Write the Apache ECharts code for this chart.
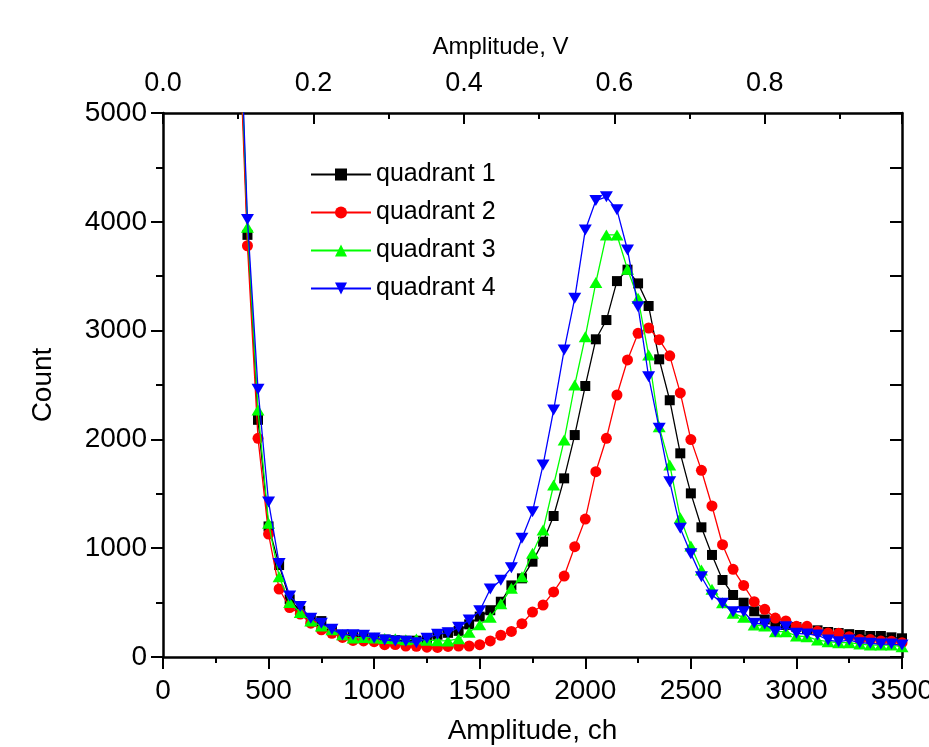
<!DOCTYPE html>
<html>
<head>
<meta charset="utf-8">
<title>Amplitude spectra</title>
<script src="https://cdn.jsdelivr.net/npm/echarts@6/dist/echarts.min.js"></script>
<style>
  html, body { margin: 0; padding: 0; background: #fff; }
  #chart { width: 929px; height: 747px; }
</style>
</head>
<body>
<div id="chart"></div>
<script>
/* CANALES (eje x, ch) */
var canales = [350, 400, 450, 500, 550, 600, 650, 700, 750, 800, 850, 900, 950, 1000,
  1050, 1100, 1150, 1200, 1250, 1300, 1350, 1400, 1450, 1500, 1550, 1600, 1650, 1700,
  1750, 1800, 1850, 1900, 1950, 2000, 2050, 2100, 2150, 2200, 2250, 2300, 2350, 2400,
  2450, 2500, 2550, 2600, 2650, 2700, 2750, 2800, 2850, 2900, 2950, 3000, 3050, 3100,
  3150, 3200, 3250, 3300, 3350, 3400, 3450, 3500];

/* CONTEOS POR CUADRANTE */
var quadrant1 = [6500, 3880, 2180, 1200, 845, 530, 425, 342, 330, 255, 200, 190, 180, 175,
  160, 155, 150, 150, 165, 205, 222, 240, 300, 371, 430, 508, 658, 723,
  876, 1060, 1296, 1642, 2040, 2491, 2920, 3097, 3455, 3560, 3434, 3226, 2736, 2360,
  1872, 1504, 1192, 938, 708, 570, 499, 420, 345, 320, 295, 275, 258, 245,
  230, 220, 210, 202, 193, 193, 181, 172];

var quadrant2 = [6300, 3780, 2010, 1130, 625, 455, 395, 311, 250, 218, 180, 152, 148, 141,
  113, 115, 101, 98, 90, 88, 97, 101, 101, 113, 148, 200, 235, 306,
  413, 478, 598, 744, 1014, 1268, 1703, 2010, 2408, 2730, 2975, 3024, 2917, 2768,
  2427, 1998, 1716, 1388, 1032, 806, 658, 508, 438, 358, 332, 282, 282, 236,
  220, 218, 187, 160, 160, 146, 144, 132];

var quadrant3 = [6600, 3950, 2270, 1229, 738, 500, 410, 330, 285, 250, 205, 175, 180, 175,
  170, 168, 158, 165, 155, 150, 148, 168, 228, 297, 366, 490, 631, 738,
  953, 1167, 1581, 1994, 2500, 2944, 3442, 3879, 3879, 3563, 3297, 2776, 2117, 1765,
  1280, 1020, 800, 622, 499, 401, 365, 294, 285, 233, 233, 193, 187, 156,
  141, 132, 132, 119, 110, 110, 110, 95];

var quadrant4 = [6700, 4020, 2460, 1425, 860, 560, 465, 356, 310, 255, 205, 205, 200, 175,
  156, 148, 145, 132, 172, 210, 224, 273, 340, 425, 625, 705, 820, 1091,
  1336, 1765, 2270, 2822, 3297, 3925, 4195, 4230, 4110, 3741, 3220, 2576, 2102, 1611,
  1183, 950, 738, 570, 494, 416, 416, 310, 303, 233, 279, 218, 211, 202,
  156, 141, 156, 132, 126, 119, 119, 110];

/* ETIQUETAS Y EJES */
var nombres = ['quadrant 1', 'quadrant 2', 'quadrant 3', 'quadrant 4'];
var colores = ['#000000', '#ff0000', '#00ff00', '#0000ff'];
var marcadores = ['rect', 'circle', 'triangle', 'triangle'];
var rotaciones = [0, 0, 0, 180];
var tamanos = [10, 11, [13, 11], [13, 11]];
var voltsMax = 3500 / 3563; // 1 V ~ 3563 ch

var fuente = 'Liberation Sans, Arial, sans-serif';

function armarSerie(i, valores) {
  var datos = [];
  for (var k = 0; k < canales.length; k++) {
    datos.push([canales[k], valores[k]]);
  }
  return {
    name: nombres[i],
    type: 'line',
    data: datos,
    clip: true,
    symbol: marcadores[i],
    symbolSize: tamanos[i],
    symbolRotate: rotaciones[i],
    showAllSymbol: true,
    lineStyle: { color: colores[i], width: 1.3 },
    itemStyle: { color: colores[i] },
    emphasis: { disabled: true },
    animation: false,
    z: 2 + i
  };
}

var chartDom = document.getElementById('chart');
var myChart = echarts.init(chartDom, null, { renderer: 'canvas' });

var option = {
  backgroundColor: '#fff',
  animation: false,
  grid: { left: 163, right: 27, top: 113, bottom: 90, containLabel: false, outerBoundsMode: 'none' },
  legend: {
    orient: 'vertical',
    left: 305,
    top: 157,
    itemWidth: 60,
    itemHeight: 15,
    itemGap: 13,
    data: nombres,
    textStyle: { fontFamily: fuente, fontSize: 25, color: '#000' }
  },
  xAxis: [
    {
      type: 'value',
      position: 'bottom',
      min: 0,
      max: 3500,
      interval: 500,
      name: 'Amplitude, ch',
      nameLocation: 'middle',
      nameGap: 60,
      nameTextStyle: { fontFamily: fuente, fontSize: 28, color: '#000' },
      axisLine: { show: true, onZero: false, lineStyle: { color: '#000', width: 2.5 } },
      axisTick: { show: true, inside: false, length: 12, lineStyle: { color: '#000', width: 2 } },
      minorTick: { show: true, splitNumber: 2, length: 6, lineStyle: { color: '#000', width: 2 } },
      axisLabel: { fontFamily: fuente, fontSize: 28, color: '#000', margin: 20,
        formatter: function (v) { return String(v); } },
      splitLine: { show: false }
    },
    {
      type: 'value',
      position: 'top',
      min: 0,
      max: voltsMax,
      interval: 0.2,
      name: 'Amplitude, V',
      nameLocation: 'middle',
      nameGap: 54,
      nameTextStyle: { fontFamily: fuente, fontSize: 24, color: '#000', padding: [0, 64, 0, 0] },
      axisLine: { show: true, onZero: false, lineStyle: { color: '#000', width: 2.5 } },
      axisTick: { show: true, inside: true, length: 11, lineStyle: { color: '#000', width: 2 } },
      minorTick: { show: true, splitNumber: 2, length: 6, lineStyle: { color: '#000', width: 2 } },
      axisLabel: {
        fontFamily: fuente, fontSize: 27, color: '#000', margin: 16,
        showMaxLabel: false,
        formatter: function (v) { return v.toFixed(1); }
      },
      splitLine: { show: false }
    }
  ],
  yAxis: [
    {
      type: 'value',
      position: 'left',
      min: 0,
      max: 5000,
      interval: 1000,
      name: 'Count',
      nameLocation: 'middle',
      nameGap: 106,
      nameTextStyle: { fontFamily: fuente, fontSize: 28, color: '#000' },
      axisLine: { show: true, onZero: false, lineStyle: { color: '#000', width: 2.5 } },
      axisTick: { show: true, inside: false, length: 12, lineStyle: { color: '#000', width: 2 } },
      minorTick: { show: true, splitNumber: 2, length: 7, lineStyle: { color: '#000', width: 2 } },
      axisLabel: { fontFamily: fuente, fontSize: 28, color: '#000', margin: 16,
        formatter: function (v) { return String(v); } },
      splitLine: { show: false }
    },
    {
      type: 'value',
      position: 'right',
      min: 0,
      max: 5000,
      interval: 500,
      axisLine: { show: true, onZero: false, lineStyle: { color: '#000', width: 2.5 } },
      axisTick: { show: true, inside: true, length: 12, lineStyle: { color: '#000', width: 2 } },
      axisLabel: { show: false },
      splitLine: { show: false }
    }
  ],
  series: [
    armarSerie(0, quadrant1),
    armarSerie(1, quadrant2),
    armarSerie(2, quadrant3),
    armarSerie(3, quadrant4)
  ]
};

myChart.setOption(option);
</script>
</body>
</html>
